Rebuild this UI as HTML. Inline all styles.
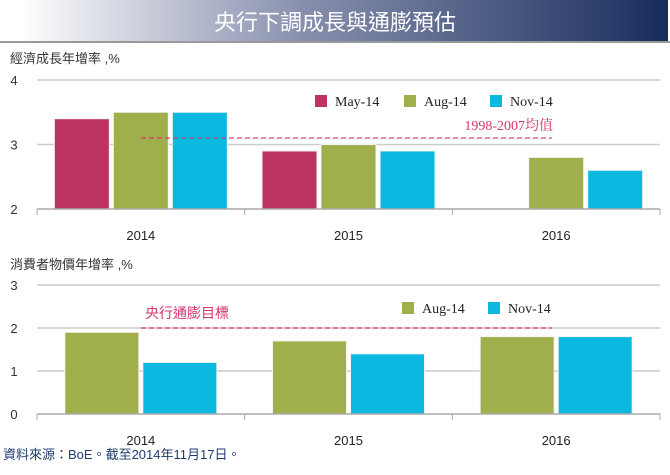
<!DOCTYPE html>
<html><head><meta charset="utf-8"><style>
body{margin:0;background:#fff;width:670px;height:470px;overflow:hidden;font-family:"Liberation Sans","Noto Sans CJK TC",sans-serif}
</style></head><body>
<svg width="670" height="470" xmlns="http://www.w3.org/2000/svg">
<defs><linearGradient id="tg" x1="0" x2="1"><stop offset="0.03" stop-color="#ffffff"/><stop offset="0.45" stop-color="#8890ae"/><stop offset="1" stop-color="#182c5c"/></linearGradient></defs>
<rect x="0" y="0" width="668" height="41" fill="url(#tg)"/>
<rect x="0" y="41" width="670" height="2" fill="#999"/>
<text x="335" y="30" text-anchor="middle" fill="#fff" font-size="22">央行下調成長與通膨預估</text>
<g id="g1"></g><g id="g2"></g>
<text x="3" y="459" font-size="13" fill="#1f3b6e">資料來源：BoE。截至2014年11月17日。</text>
</svg>
<script>
const categories=["2014","2015","2016"];
const gdpMay=[3.4,2.9,null];
const gdpAug=[3.5,3.0,2.8];
const gdpNov=[3.5,2.9,2.6];
const gdpTicks=[2,3,4];
const gdpAvg=3.1;
const cpiAug=[1.9,1.7,1.8];
const cpiNov=[1.2,1.4,1.8];
const cpiTicks=[0,1,2,3];
const cpiTarget=2.0;
const C={may:"#bd3361",aug:"#a0ae4b",nov:"#0bb8e0"};
const NS="http://www.w3.org/2000/svg";
function mk(p,t,a,txt){const e=document.createElementNS(NS,t);for(const k in a)e.setAttribute(k,a[k]);if(txt!=null)e.textContent=txt;p.appendChild(e);return e;}
function chart(g,o){
 const x0=37,x1=660,cw=(x1-x0)/categories.length;
 const y=v=>o.yb-(v-o.min)/(o.max-o.min)*(o.yb-o.yt);
 const t=mk(g,'text',{x:10,y:o.titleY,'font-size':13,fill:'#333'},o.title);
 
 o.ticks.forEach(v=>{
  if(v!==o.min){const l=mk(g,'line',{x1:x0,x2:x1,y1:y(v),y2:y(v),stroke:'#ccc','stroke-width':1.5});
  }
  const tl=mk(g,'text',{x:14,y:y(v)+5,'font-size':13,fill:'#333','text-anchor':'middle'},String(v));
  
 });
 const n=o.series.length,bw=o.bw,gap=4,tot=n*bw+(n-1)*gap;
 categories.forEach((c,i)=>{
  const cx=x0+cw*(i+0.5);
  o.series.forEach((s,j)=>{
   const v=s.vals[i];if(v==null)return;
   const bx=cx-tot/2+j*(bw+gap);
   const r=mk(g,'rect',{x:bx,y:y(v),width:bw,height:o.yb-y(v),fill:s.color,stroke:'#f4f4f4','stroke-width':1});
   
  });
  const xl=mk(g,'text',{x:cx,y:o.yb+31,'font-size':13,fill:'#222','text-anchor':'middle'},c);
  
 });
 const ax=mk(g,'line',{x1:x0,x2:x1,y1:o.yb,y2:o.yb,stroke:'#aaa','stroke-width':1.5});
 
 for(let i=0;i<=categories.length;i++){const tk=mk(g,'line',{x1:x0+cw*i,x2:x0+cw*i,y1:o.yb,y2:o.yb+6,stroke:'#aaa'});
  }
 const d=mk(g,'line',{x1:141,x2:552,y1:y(o.ref),y2:y(o.ref),stroke:'#d6336c','stroke-width':1.2,'stroke-dasharray':'5,3'});
 
 const rl=mk(g,'text',{x:o.refLX,y:o.refLY,'font-size':o.refFs,fill:'#d6336c','text-anchor':o.refAnchor,'font-family':o.refFont},o.refLabel);
 
 o.legend.forEach(L=>{
  const lg=mk(g,'g',{});
  mk(lg,'rect',{x:L.x,y:o.legY-6,width:12,height:12,fill:L.color});
  mk(lg,'text',{x:L.x+20,y:o.legY+5,'font-size':14,fill:'#222','font-family':'"Liberation Serif",serif'},L.label);
 });
}
chart(document.getElementById('g1'),{min:2,max:4,yt:80,yb:209,ticks:gdpTicks,title:'經濟成長年增率 ,%',titleY:63,bw:55,
 series:[{key:'may',vals:gdpMay,color:C.may},{key:'aug',vals:gdpAug,color:C.aug},{key:'nov',vals:gdpNov,color:C.nov}],
 ref:gdpAvg,refLabel:'1998-2007均值',refLX:553,refLY:130,refFs:14,refAnchor:'end',refFont:'"Liberation Serif","Noto Serif CJK SC",serif',
 legY:101,legend:[{key:'may',x:315,color:C.may,label:'May-14'},{key:'aug',x:404,color:C.aug,label:'Aug-14'},{key:'nov',x:490,color:C.nov,label:'Nov-14'}]});
chart(document.getElementById('g2'),{min:0,max:3,yt:285,yb:414,ticks:cpiTicks,title:'消費者物價年增率 ,%',titleY:269,bw:74,
 series:[{key:'aug',vals:cpiAug,color:C.aug},{key:'nov',vals:cpiNov,color:C.nov}],
 ref:cpiTarget,refLabel:'央行通膨目標',refLX:145,refLY:318,refFs:14,refAnchor:'start',refFont:'"Liberation Sans","Noto Sans CJK TC",sans-serif',
 legY:308,legend:[{key:'aug',x:402,color:C.aug,label:'Aug-14'},{key:'nov',x:488,color:C.nov,label:'Nov-14'}]});
</script>
</body></html>
